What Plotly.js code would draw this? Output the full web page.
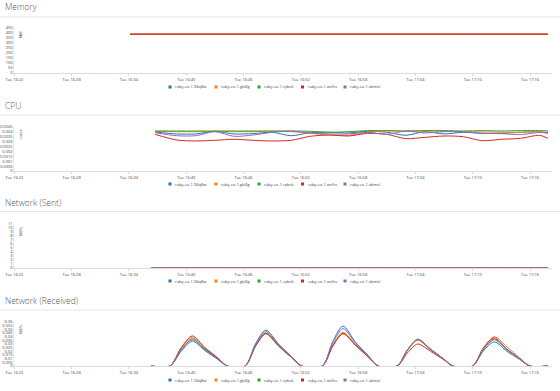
<!DOCTYPE html>
<html>
<head>
<meta charset="utf-8">
<script src="https://cdn.plot.ly/plotly-3.0.1.min.js"></script>
<style>html,body{margin:0;padding:0;background:#fff;}#chart{width:560px;height:391px;}</style>
</head>
<body>
<div id="chart"></div>
<script>
// ---------------- DATA ----------------
const day = '2017-06-13 ';
const podNames = ['ruby-ex-1-94q8w', 'ruby-ex-1-gk4lg', 'ruby-ex-1-rpbvk', 'ruby-ex-1-wcfvc', 'ruby-ex-1-xbmsl'];
const podColors = ['#1f77b4', '#ff7f0e', '#2ca02c', '#d62728', '#9467bd'];
const panelTitles = ['Memory', 'CPU', 'Network (Sent)', 'Network (Received)'];
const unitLabels = ['MiB', 'cores', 'KiB/s', 'KiB/s'];

// Memory (MiB)
const memTimes = ['16:34:07', '16:40:00', '16:46:00', '16:52:00', '16:58:00', '17:04:00', '17:10:00', '17:17:53'];
const memBlue   = [387, 387, 387, 387, 387, 387, 387, 387];
const memOrange = [391, 391, 391, 391, 391, 391, 391, 391];
const memGreen  = [386, 386, 386, 386, 386, 386, 386, 386];
const memRed    = [388, 388, 388, 388, 388, 388, 388, 388];
const memPurple = [386, 386, 386, 386, 386, 386, 386, 386];

// CPU (cores)
const cpuTimes = ['16:36:45', '16:39:00', '16:41:00', '16:43:00', '16:45:00', '16:47:00', '16:49:00', '16:51:00',
  '16:53:00', '16:55:00', '16:57:00', '16:59:00', '17:01:00', '17:03:00', '17:05:00', '17:07:00', '17:09:00',
  '17:11:00', '17:13:00', '17:15:00', '17:17:00', '17:17:53'];
const cpuBlue   = [.00399, .00379, .00379, .00406, .00379, .00382, .00396, .00361, .00392, .00396, .00389, .00406, .00396, .00365, .00402, .00379, .00396, .00385, .00385, .00396, .00399, .00385];
const cpuOrange = [.00406, .00402, .00402, .00406, .00402, .00402, .00406, .00402, .00385, .00368, .00365, .00396, .00409, .00406, .00409, .00406, .00402, .00399, .00396, .00396, .00402, .00389];
const cpuGreen  = [.00409, .00409, .00409, .00409, .00409, .00409, .00409, .00409, .00406, .00396, .00402, .00413, .00413, .00409, .00413, .00413, .00409, .00413, .00409, .00413, .00413, .00409];
const cpuRed    = [.00375, .00317, .00307, .00314, .00324, .00314, .00307, .00314, .00355, .00368, .00358, .00385, .00375, .00331, .00344, .00358, .00351, .00310, .00324, .00334, .00365, .00334];
const cpuPurple = [.00392, .00361, .00361, .00402, .00355, .00368, .00396, .00409, .00389, .00379, .00379, .00396, .00375, .00409, .00389, .00402, .00402, .00385, .00382, .00372, .00396, .00396];

// Network sent (KiB/s)
const sentTimes = ['16:36:20', '16:46:00', '16:56:00', '17:06:00', '17:17:53'];
const sentBlue   = [0.03, 0.03, 0.03, 0.03, 0.03];
const sentOrange = [0.03, 0.03, 0.03, 0.03, 0.03];
const sentGreen  = [0.03, 0.03, 0.03, 0.03, 0.03];
const sentRed    = [0.03, 0.03, 0.03, 0.03, 0.03];
const sentPurple = [0.03, 0.03, 0.03, 0.03, 0.03];

// Network received (KiB/s)
const recvTimes = ['16:36:20',
  '16:38:18', '16:39:28', '16:40:38', '16:41:58', '16:43:18', '16:44:18',
  '16:46:10', '16:47:15', '16:48:20', '16:49:40', '16:51:00', '16:52:05',
  '16:54:15', '16:55:20', '16:56:25', '16:57:45', '16:59:05', '17:00:05',
  '17:02:05', '17:03:10', '17:04:15', '17:05:35', '17:06:55', '17:07:55',
  '17:10:00', '17:11:05', '17:12:15', '17:13:35', '17:14:55', '17:15:58',
  '17:17:53'];
const recvBlue   = [0, 0, .020, .034, .021, .009, 0, 0, .030, .049, .030, .013, 0, 0, .033, .0545, .032, .014, 0, 0, .022, .036, .023, .010, 0, 0, .020, .033, .020, .009, 0, 0];
const recvOrange = [0, 0, .024, .039, .024, .011, 0, 0, .028, .045, .028, .012, 0, 0, .028, .046, .029, .013, 0, 0, .021, .035, .022, .010, 0, 0, .024, .040, .026, .011, 0, 0];
const recvGreen  = [0, 0, .022, .037, .023, .010, 0, 0, .027, .044, .027, .012, 0, 0, .027, .044, .028, .012, 0, 0, .022, .0365, .023, .010, 0, 0, .022, .036, .022, .010, 0, 0];
const recvRed    = [0, 0, .025, .041, .025, .011, 0, 0, .027, .0445, .028, .012, 0, 0, .027, .0445, .028, .012, 0, 0, .018, .030, .020, .009, 0, 0, .024, .0385, .023, .010, 0, 0];
const recvPurple = [0, 0, .022, .036, .022, .010, 0, 0, .029, .047, .029, .013, 0, 0, .031, .051, .031, .013, 0, 0, .022, .0365, .022, .010, 0, 0, .023, .037, .023, .010, 0, 0];

// Axis settings
const xStart = '16:22:00', xEnd = '17:18:18';
const yRanges = [[0, 450], [0, 0.0045], [0, 11], [0, 0.06]];
const yDticks = [50, 0.0005, 1, 0.005];

// ---------------- LAYOUT HELPERS ----------------
const W = 560, H = 391;
const px = x => x / W, py = y => 1 - y / H;
const panelPos = [
  {titleY: 7, sepY: 17, top: 28, bottom: 73, legendY: 87},
  {titleY: 105, sepY: 115, top: 127, bottom: 171, legendY: 184},
  {titleY: 202, sepY: 211.5, top: 224, bottom: 268, legendY: 281},
  {titleY: 300.5, sepY: 310, top: 322, bottom: 366, legendY: 380}
];
const legendSquareX = [170, 216, 259, 302.5, 345];
// drawing order of series per panel (memory: red drawn on top)
const drawOrder = [[0, 2, 4, 1, 3], [0, 1, 2, 3, 4], [0, 1, 2, 3, 4], [0, 1, 2, 3, 4]];

const series = [
  {t: memTimes, v: [memBlue, memOrange, memGreen, memRed, memPurple]},
  {t: cpuTimes, v: [cpuBlue, cpuOrange, cpuGreen, cpuRed, cpuPurple]},
  {t: sentTimes, v: [sentBlue, sentOrange, sentGreen, sentRed, sentPurple]},
  {t: recvTimes, v: [recvBlue, recvOrange, recvGreen, recvRed, recvPurple]}
];

const traces = [];
const layout = {
  width: W, height: H,
  margin: {l: 0, r: 0, t: 0, b: 0},
  paper_bgcolor: '#fff', plot_bgcolor: '#fff',
  showlegend: false,
  font: {family: '"Open Sans", "DejaVu Sans", sans-serif', color: '#555'},
  annotations: [], shapes: []
};

series.forEach((s, p) => {
  const sfx = p === 0 ? '' : String(p + 1);
  drawOrder[p].forEach(i => {
    const vals = s.v[i];
    traces.push({
      type: 'scatter', mode: 'lines',
      x: s.t.map(t => day + t), y: vals,
      xaxis: 'x' + sfx, yaxis: 'y' + sfx,
      name: podNames[i],
      line: {color: podColors[i], width: p === 2 ? 0.6 : 1, shape: 'spline', smoothing: 0.8},
      hoverinfo: 'skip'
    });
  });
  const pos = panelPos[p];
  layout['xaxis' + sfx] = {
    type: 'date', range: [day + xStart, day + xEnd],
    domain: [px(14.3), px(552)], anchor: 'y' + sfx,
    tick0: day + xStart, dtick: 360000, tickformat: 'Tue %H:%M',
    showgrid: false, zeroline: false,
    showline: true, linecolor: '#dcdcdc', linewidth: 1,
    ticks: 'outside', ticklen: 2, tickcolor: '#dcdcdc',
    tickfont: {size: 4, color: '#444'}, fixedrange: true
  };
  layout['yaxis' + sfx] = {
    range: yRanges[p], dtick: yDticks[p], tick0: 0,
    domain: [py(pos.bottom), py(pos.top)], anchor: 'x' + sfx,
    showgrid: false, zeroline: false,
    showline: true, linecolor: '#e6e6e6', linewidth: 1,
    ticks: '', tickfont: {size: 4, color: '#444'}, fixedrange: true
  };
  // panel title
  layout.annotations.push({
    xref: 'paper', yref: 'paper', x: px(3), y: py(pos.titleY),
    xanchor: 'left', yanchor: 'middle', showarrow: false,
    text: panelTitles[p],
    font: {size: 8.5, color: '#555', family: '"Open Sans", sans-serif', weight: 300}
  });
  // unit label
  layout.annotations.push({
    xref: 'paper', yref: 'paper', x: px(19.5), y: py(pos.top + 1),
    xanchor: 'center', yanchor: 'top', showarrow: false, textangle: -90,
    text: unitLabels[p], font: {size: 4, color: '#444'}
  });
  // separator
  layout.shapes.push({
    type: 'line', xref: 'paper', yref: 'paper', x0: 0, x1: 1,
    y0: py(pos.sepY), y1: py(pos.sepY), line: {color: '#e6e6e6', width: 1}
  });
  // legend
  podNames.forEach((n, i) => {
    const sx = legendSquareX[i];
    layout.shapes.push({
      type: 'rect', xref: 'paper', yref: 'paper',
      x0: px(sx - 1.5), x1: px(sx + 1.5), y0: py(pos.legendY + 1.5), y1: py(pos.legendY - 1.5),
      fillcolor: podColors[i], line: {width: 0}
    });
    layout.annotations.push({
      xref: 'paper', yref: 'paper', x: px(sx + 3), y: py(pos.legendY),
      xanchor: 'left', yanchor: 'middle', showarrow: false,
      text: n, font: {size: 4, color: '#444'}
    });
  });
});

Plotly.newPlot('chart', traces, layout, {displayModeBar: false, staticPlot: true});
</script>
</body>
</html>
